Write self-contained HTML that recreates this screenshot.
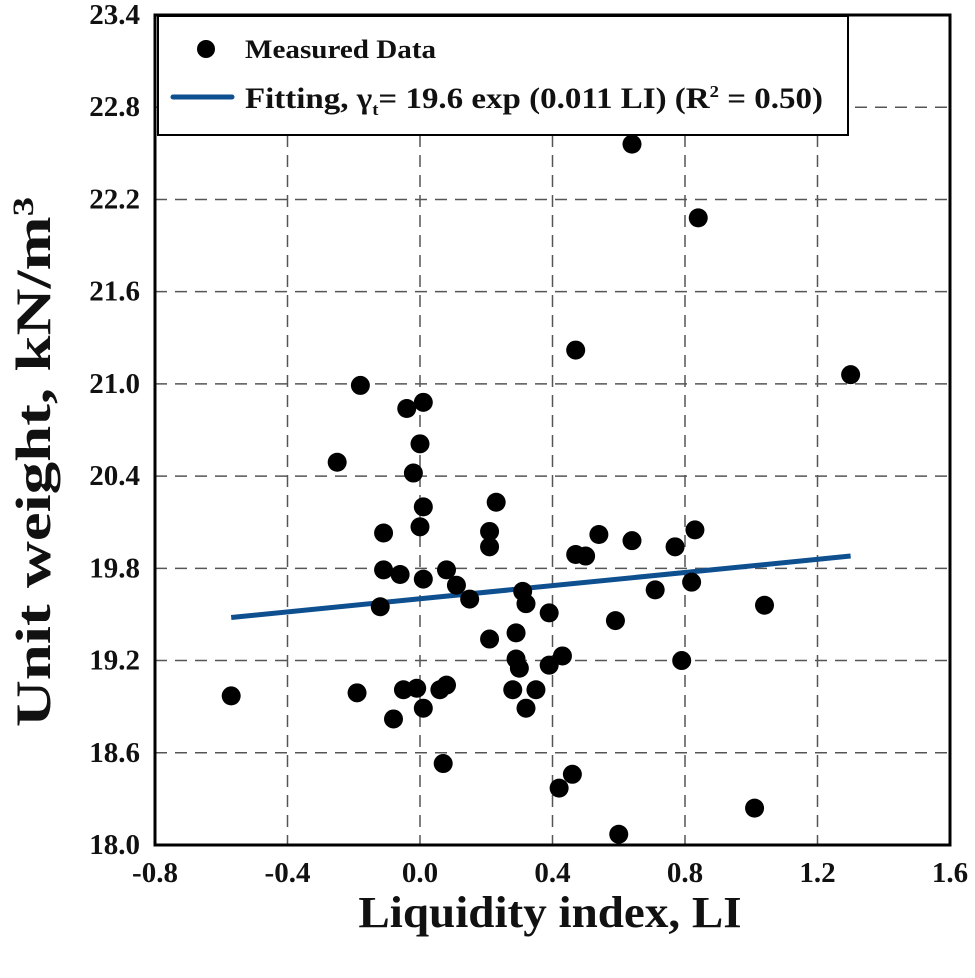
<!DOCTYPE html>
<html><head><meta charset="utf-8"><style>
body{margin:0;background:#fff}
svg text{font-family:"Liberation Serif",serif;font-weight:bold;fill:#111}
</style></head><body>
<svg width="975" height="973" viewBox="0 0 975 973">
<g id="grid"></g>
<g id="ticks"></g>
<g id="fit"></g>
<g id="pts"></g>
<rect x="155" y="15" width="795" height="830" fill="none" stroke="#000" stroke-width="3"/>
<g>
<rect x="158" y="16" width="690" height="119" fill="#fff" stroke="#000" stroke-width="2"/>
<circle cx="206" cy="49" r="9" fill="#000"/>
<text transform="translate(245,58) scale(1.12,1)" font-size="26">Measured Data</text>
<line x1="173" y1="97" x2="232" y2="97" stroke="#0d4f8f" stroke-width="5" stroke-linecap="round"/>
<text transform="translate(245,108) scale(1.1,1)" font-size="30">Fitting, γ<tspan font-size="17" dy="7">t</tspan><tspan dy="-7">= 19.6 exp (0.011 LI) (R</tspan><tspan font-size="17" dy="-11">2</tspan><tspan dy="11"> = 0.50)</tspan></text>
</g>
<text transform="translate(550,927) scale(1.07,1)" font-size="44" text-anchor="middle">Liquidity index, LI</text>
<text transform="translate(50,462) rotate(-90) scale(1.3,1)" font-size="50" text-anchor="middle">Unit weight, kN/m<tspan font-size="30" dy="-17">3</tspan></text>
<script>
const xTicks=[-0.8,-0.4,0.0,0.4,0.8,1.2,1.6];
const yTicks=[18.0,18.6,19.2,19.8,20.4,21.0,21.6,22.2,22.8,23.4];
const ptsLI=[0.64,0.84,0.47,1.30,-0.18,-0.04,0.01,0.00,-0.25,-0.02,0.01,0.23,0.00,-0.11,0.21,0.21,0.83,0.54,0.64,0.77,0.47,0.50,-0.11,-0.06,0.08,0.01,0.11,0.15,0.31,0.32,0.71,0.82,1.04,-0.12,0.39,0.59,0.21,0.29,0.29,0.30,0.39,0.43,0.79,0.28,0.35,0.32,-0.57,-0.19,-0.05,-0.01,0.08,0.06,-0.08,0.01,0.07,0.46,0.42,1.01,0.60];
const ptsGamma=[22.56,22.08,21.22,21.06,20.99,20.84,20.88,20.61,20.49,20.42,20.20,20.23,20.07,20.03,20.04,19.94,20.05,20.02,19.98,19.94,19.89,19.88,19.79,19.76,19.79,19.73,19.69,19.60,19.65,19.57,19.66,19.71,19.56,19.55,19.51,19.46,19.34,19.38,19.21,19.15,19.17,19.23,19.20,19.01,19.01,18.89,18.97,18.99,19.01,19.02,19.04,19.01,18.82,18.89,18.53,18.46,18.37,18.24,18.07];
const fitLI=[-0.57,1.30];
const fitGamma=[19.48,19.88];
const X=v=>155+(v+0.8)/2.4*795;
const Y=v=>845-(v-18)/5.4*830;
const NS='http://www.w3.org/2000/svg';
function mk(t,a,p){const e=document.createElementNS(NS,t);for(const k in a)e.setAttribute(k,a[k]);p.appendChild(e);return e;}
const g=document.getElementById('grid'),tk=document.getElementById('ticks');
xTicks.forEach(v=>{
 if(v>-0.8&&v<1.6){const l=mk('line',{x1:X(v),x2:X(v),y1:15,y2:845,stroke:'#555','stroke-width':1.5,'stroke-dasharray':'12 8'},g);
 
 }
 const t=mk('text',{x:X(v),y:882,'font-size':29,'text-anchor':'middle'},tk);t.textContent=v.toFixed(1);
 
 
});
yTicks.forEach(v=>{
 if(v>18&&v<23.4){const l=mk('line',{x1:155,x2:950,y1:Y(v),y2:Y(v),stroke:'#555','stroke-width':1.5,'stroke-dasharray':'12 8'},g);
 
 }
 const t=mk('text',{x:140,y:Y(v)+9,'font-size':29,'text-anchor':'end'},tk);t.textContent=v.toFixed(1);
 
 
});
const f=mk('line',{x1:X(fitLI[0]),y1:Y(fitGamma[0]),x2:X(fitLI[1]),y2:Y(fitGamma[1]),stroke:'#0d4f8f','stroke-width':5},document.getElementById('fit'));


const pg=document.getElementById('pts');
ptsLI.forEach((v,i)=>{const c=mk('circle',{cx:X(v),cy:Y(ptsGamma[i]),r:9.5,fill:'#000'},pg);
 
 });
</script>
</svg>
</body></html>
